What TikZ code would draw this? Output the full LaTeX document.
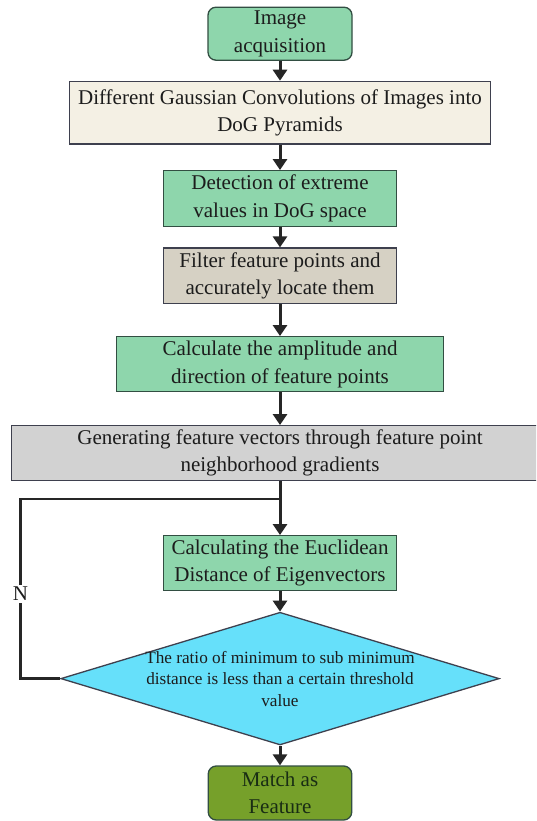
\documentclass[tikz,border=0pt]{standalone}
\usepackage{fontspec}
\setmainfont{Liberation Serif}
\usetikzlibrary{shapes.geometric,arrows.meta}
\definecolor{mint}{RGB}{142,214,172}
\definecolor{beige}{RGB}{244,240,228}
\definecolor{tan}{RGB}{214,209,196}
\definecolor{lgray}{RGB}{210,210,210}
\definecolor{cyanfill}{RGB}{102,224,250}
\definecolor{olive}{RGB}{118,160,42}
\definecolor{edgegray}{RGB}{62,64,78}
\definecolor{edgegreen}{RGB}{50,78,66}
\definecolor{txt}{RGB}{28,28,28}
\tikzset{
  box/.style={draw=edgegray, line width=1.3pt, inner sep=0pt, align=center,
    text=txt, font=\fontsize{21}{27.5}\selectfont},
  greenbox/.style={box, fill=mint, draw=edgegreen},
  roundbox/.style={rounded corners=8pt},
  flow/.style={line width=3pt, draw=black!85, -{Triangle[width=14pt,length=11pt]}},
  loopline/.style={line width=2.6pt, draw=black!85},
}
\begin{document}
\begin{tikzpicture}[x=1pt,y=-1pt]
\clip (0,0) rectangle (536,821);
\fill[white] (0,0) rectangle (536,821);
\node[greenbox, roundbox, minimum width=144pt, minimum height=53pt] (acq) at (280,33.7) {Image\\acquisition};
\node[box, fill=beige, minimum width=420.6pt, minimum height=62.7pt] (gauss) at (280,112.7) {Different Gaussian Convolutions of Images into\\DoG Pyramids};
\node[greenbox, minimum width=233.6pt, minimum height=55.6pt] (detect) at (280,198.5) {Detection of extreme\\values in DoG space};
\node[box, fill=tan, minimum width=233.6pt, minimum height=55.3pt] (filter) at (280,275.7) {Filter feature points and\\accurately locate them};
\node[greenbox, minimum width=327pt, minimum height=55pt] (ampl) at (280,364.2) {Calculate the amplitude and\\direction of feature points};
\node[box, fill=lgray, minimum width=537.4pt, minimum height=54.6pt] (gen) at (280,453) {Generating feature vectors through feature point\\neighborhood gradients};
\node[greenbox, minimum width=233.6pt, minimum height=55pt] (eucl) at (280,563.2) {Calculating the Euclidean\\Distance of Eigenvectors};
\node[diamond, draw=edgegray, line width=1.3pt, fill=cyanfill, inner sep=0pt, minimum width=438.5pt, minimum height=132.7pt] (dec) at (280,678.6) {};
\node[align=center, text=txt, font=\fontsize{17.2}{21.5}\selectfont] (dectext) at (dec.center) {The ratio of minimum to sub minimum\\distance is less than a certain threshold\\value};
\node[greenbox, roundbox, fill=olive, minimum width=143.5pt, minimum height=54pt, text={rgb,255:red,25;green,45;blue,20}] (match) at (280,793) {Match as\\Feature};
\coordinate (lb) at (20.5,678.6);
\coordinate (lt) at (20.5,499);
\coordinate (j) at (280,499);
\draw[flow] (acq.south) -- (gauss.north);
\draw[flow] (gauss.south) -- (detect.north);
\draw[flow] (detect.south) -- (filter.north);
\draw[flow] (filter.south) -- (ampl.north);
\draw[flow] (ampl.south) -- (gen.north);
\draw[flow] (gen.south) -- (eucl.north);
\draw[flow] (eucl.south) -- (dec.north);
\draw[flow] (dec.south) -- (match.north);
\draw[loopline] (dec.west) -- (lb) -- (lt) -- (j);
\node[fill=white, inner sep=2pt, text=txt, font=\fontsize{21}{22}\selectfont] (nlab) at (20.5,594) {N};
\end{tikzpicture}
\end{document}
